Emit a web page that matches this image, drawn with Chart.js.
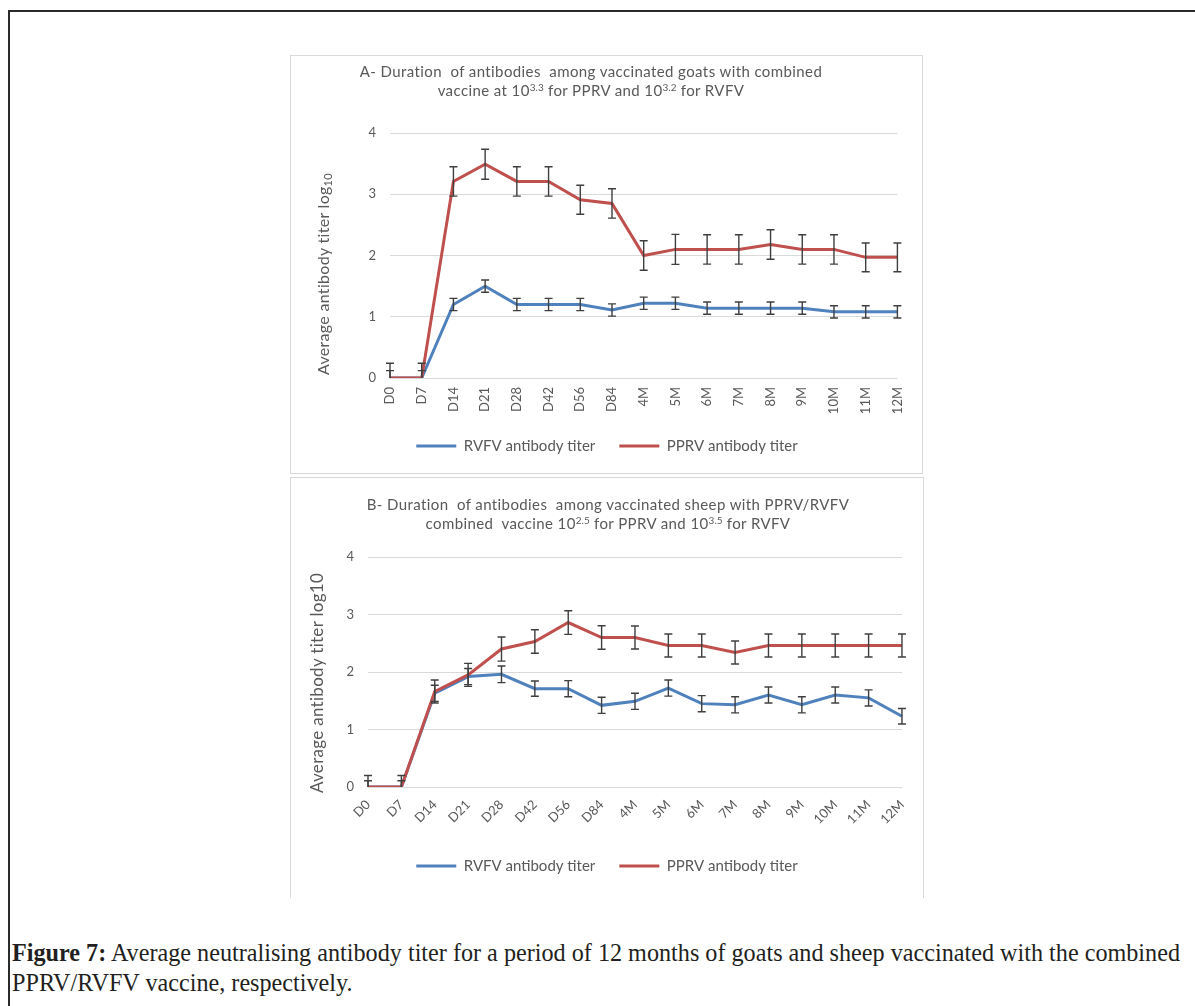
<!DOCTYPE html>
<html><head><meta charset="utf-8">
<script src="https://cdn.jsdelivr.net/npm/chart.js@4.4.1/dist/chart.umd.min.js"></script>
<style>
html,body{margin:0;padding:0;background:#fff;width:1195px;height:1006px;overflow:hidden;position:relative;font-family:Lato,"Open Sans",sans-serif;}
#frame{position:absolute;left:8px;top:10px;width:1200px;height:1010px;border-left:2px solid #2b2b2b;border-top:2px solid #2b2b2b;}
.panel{position:absolute;border:1px solid #d9d9d9;background:#fff;}
#pA{left:290px;top:55px;width:631px;height:417px;}
#pB{left:290px;top:477px;width:632px;height:420px;border-bottom:none;}
canvas{position:absolute;left:0;top:0;}
.ttl{position:absolute;color:#595959;font-size:15px;letter-spacing:0.4px;white-space:pre;text-align:center;transform:translateX(-50%);line-height:19px;}
.ttl sup{font-size:10px;vertical-align:5px;line-height:0;letter-spacing:0;}
.ytitle{position:absolute;color:#595959;font-size:16px;white-space:pre;transform:translate(-50%,-50%) rotate(-90deg);letter-spacing:0.3px;}
.ytitle sub{font-size:11px;vertical-align:-3px;line-height:0;}
#cap{position:absolute;left:12px;top:938px;font-family:"Liberation Serif","DejaVu Serif",serif;font-size:25px;line-height:30px;color:#231f20;white-space:pre;transform-origin:0 0;}
</style></head>
<body>
<div id="frame"></div>
<div class="panel" id="pA"><canvas id="cA" width="631" height="417"></canvas></div>
<div class="panel" id="pB"><canvas id="cB" width="632" height="415"></canvas></div>
<div class="ttl" style="left:591px;top:62px;">A- Duration  of antibodies  among vaccinated goats with combined
vaccine at 10<sup>3.3</sup> for PPRV and 10<sup>3.2</sup> for RVFV</div>
<div class="ttl" style="left:608px;top:495px;">B- Duration  of antibodies  among vaccinated sheep with PPRV/RVFV
combined  vaccine 10<sup>2.5</sup> for PPRV and 10<sup>3.5</sup> for RVFV</div>
<div class="ytitle" style="left:322px;top:274px;">Average antibody titer log<sub>10</sub></div>
<div class="ytitle" style="left:316px;top:683px;font-size:17px;">Average antibody titer log10</div>
<div id="cap"><span id="capL1"><b>Figure 7:</b> Average neutralising antibody titer for a period of 12 months of goats and sheep vaccinated with the combined</span>
PPRV/RVFV vaccine, respectively.</div>
<script>
const categories = ['D0','D7','D14','D21','D28','D42','D56','D84','4M','5M','6M','7M','8M','9M','10M','11M','12M'];
const yTickValues = [0,1,2,3,4];
const seriesNames = ['RVFV antibody titer','PPRV antibody titer'];

const goatRVFV    = [0,0,1.2,1.5,1.2,1.2,1.2,1.11,1.22,1.22,1.14,1.14,1.14,1.14,1.08,1.08,1.08];
const goatRVFVErr = [0.12,0.12,0.1,0.1,0.1,0.1,0.1,0.1,0.1,0.1,0.1,0.1,0.1,0.1,0.1,0.1,0.1];
const goatPPRV    = [0,0,3.21,3.49,3.21,3.21,2.91,2.85,2.0,2.1,2.1,2.1,2.18,2.1,2.1,1.97,1.97];
const goatPPRVErr = [0.24,0.24,0.24,0.245,0.24,0.24,0.236,0.24,0.24,0.245,0.24,0.24,0.24,0.24,0.24,0.235,0.235];

const sheepRVFV    = [0,0,1.63,1.92,1.96,1.71,1.71,1.42,1.49,1.72,1.45,1.43,1.6,1.43,1.6,1.55,1.23];
const sheepRVFVErr = [0.11,0.11,0.14,0.14,0.144,0.133,0.14,0.14,0.14,0.14,0.14,0.14,0.14,0.14,0.14,0.14,0.135];
const sheepPPRV    = [0,0,1.66,1.95,2.40,2.53,2.86,2.60,2.60,2.46,2.46,2.34,2.46,2.46,2.46,2.46,2.46];
const sheepPPRVErr = [0.2,0.2,0.2,0.2,0.21,0.205,0.205,0.205,0.2,0.2,0.2,0.2,0.2,0.2,0.2,0.2,0.2];

const BLUE = '#4F81BD', RED = '#C0504D', TXT = '#595959', GRID = '#d9d9d9';

const errorBars = {
  id: 'errorBars',
  afterDatasetsDraw(chart) {
    const ctx = chart.ctx, ys = chart.scales.y;
    ctx.save();
    ctx.strokeStyle = '#3f3f3f';
    ctx.lineWidth = 1.4;
    chart.data.datasets.forEach((ds, di) => {
      const meta = chart.getDatasetMeta(di);
      meta.data.forEach((pt, i) => {
        const v = ds.data[i], e = ds.errors[i];
        const x = pt.x;
        const hi = ys.getPixelForValue(v + e);
        const loV = v - e;
        const lo = ys.getPixelForValue(Math.max(loV, ys.min));
        ctx.beginPath();
        ctx.moveTo(x, hi); ctx.lineTo(x, lo);
        ctx.moveTo(x - 4, hi); ctx.lineTo(x + 4, hi);
        if (loV >= ys.min) { ctx.moveTo(x - 4, lo); ctx.lineTo(x + 4, lo); }
        ctx.stroke();
      });
    });
    ctx.restore();
  }
};

function makeChart(id, rv, rvErr, pp, ppErr, cfg) {
  return new Chart(document.getElementById(id), {
    type: 'line',
    data: {
      labels: categories,
      datasets: [
        {label: seriesNames[0], data: rv, errors: rvErr, borderColor: BLUE, backgroundColor: BLUE, borderWidth: 3, pointRadius: 0, tension: 0, order: 1},
        {label: seriesNames[1], data: pp, errors: ppErr, borderColor: RED, backgroundColor: RED, borderWidth: 3, pointRadius: 0, tension: 0, order: 0}
      ]
    },
    options: {
      responsive: false, animation: false, devicePixelRatio: 1,
      layout: {padding: {left: cfg.pl, right: cfg.pr, top: cfg.pt, bottom: cfg.pb}},
      plugins: {
        tooltip: {enabled: false},
        title: {display: false},
        legend: {
          position: 'bottom',
          labels: {
            boxWidth: 40, boxHeight: 3, padding: 24, color: TXT,
            font: {family: 'Lato', size: 15},
            generateLabels(chart) {
              return chart.data.datasets.map((ds, i) => ({
                text: ds.label, fillStyle: ds.borderColor, strokeStyle: ds.borderColor,
                lineWidth: 0, hidden: false, datasetIndex: i, fontColor: TXT
              }));
            }
          }
        }
      },
      scales: {
        x: {
          grid: {display: false, drawTicks: false},
          border: {display: false},
          ticks: {autoSkip: false, minRotation: cfg.rot, maxRotation: cfg.rot, padding: cfg.xpad, color: TXT, font: {family: 'Lato', size: 13}},
          afterFit(s) { s.height = cfg.xh; }
        },
        y: {
          min: 0, max: 4,
          afterBuildTicks(s) { s.ticks = yTickValues.map(v => ({value: v})); },
          grid: {color: GRID, lineWidth: 1, drawTicks: false},
          border: {display: false},
          ticks: {padding: 14, color: TXT, font: {family: 'Lato', size: 13}},
          afterFit(s) { s.width = cfg.yw; }
        }
      }
    },
    plugins: [errorBars]
  });
}

makeChart('cA', goatRVFV, goatRVFVErr, goatPPRV, goatPPRVErr, {pl: 25, pr: 24, pt: 77, pb: 9.5, yw: 74, xh: 36.5, rot: 90, xpad: 9});
makeChart('cB', sheepRVFV, sheepRVFVErr, sheepPPRV, sheepPPRVErr, {pl: 21, pr: 21, pt: 79, pb: 9.5, yw: 56, xh: 47.5, rot: 45, xpad: 10});

const cap = document.getElementById('cap');
const w1 = document.getElementById('capL1').getBoundingClientRect().width;
cap.style.transform = 'scaleX(' + (1168 / w1) + ')';
</script>
</body></html>
